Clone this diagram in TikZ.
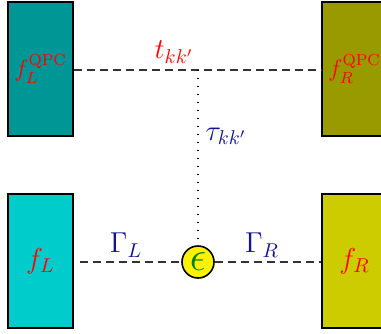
\documentclass[tikz,border=0pt]{standalone}
\usepackage{amsmath,amssymb}
\usepackage{tikz}
\usetikzlibrary{arrows.meta,positioning,calc}
\definecolor{qpcleft}{RGB}{0,150,150}
\definecolor{qpcright}{RGB}{153,153,0}
\definecolor{leadleft}{RGB}{0,204,204}
\definecolor{leadright}{RGB}{204,204,0}
\definecolor{coupblue}{RGB}{20,20,140}
\definecolor{dotgreen}{RGB}{0,128,0}

\begin{document}
\begin{tikzpicture}[x=0.5pt, y=-0.5pt,
    res/.style={draw, thick, fill=#1, minimum width=32.5pt, minimum height=67pt, inner sep=0pt, text=red},
    dot/.style={draw, thick, circle, fill=yellow, minimum size=16pt, inner sep=0pt, text=dotgreen},
    lnk/.style={dash pattern=on 4pt off 2.5pt, thick, black!80},
    cpl/.style={text=coupblue}
]
\useasboundingbox (0,0) rectangle (381,333);
% QPC reservoirs
\node[res=qpcleft] (qL) at (40.5, 69) {\large $f_L^{\mathrm{QPC}}$};
\node[res=qpcright] (qR) at (354.5, 69) {\large $f_R^{\mathrm{QPC}}$};
\draw[lnk] (qL.east |- 0,70) -- (qR.west |- 0,70);
\node[text=red] (t) at (174, 52) {\Large $t_{kk'}$};

% dot and leads
\node[res=leadleft] (fL) at (40.5, 261) {\Large $f_L$};
\node[res=leadright] (fR) at (354.5, 261) {\Large $f_R$};
\node[dot] (eps) at (198, 262) {\huge $\epsilon$};
\draw[lnk] (80, 262) -- (eps);
\draw[lnk] (eps) -- (fR.west |- eps);
\node[cpl] (gL) at (126, 245) {\Large $\Gamma_L$};
\node[cpl] (gR) at (262, 245) {\Large $\Gamma_R$};

% measurement coupling
\draw[dash pattern=on 0.5pt off 3.5pt, semithick] (198, 70) -- (eps);
\node[cpl] (tau) at (226, 136) {\Large $\tau_{kk'}$};
\end{tikzpicture}
\end{document}
